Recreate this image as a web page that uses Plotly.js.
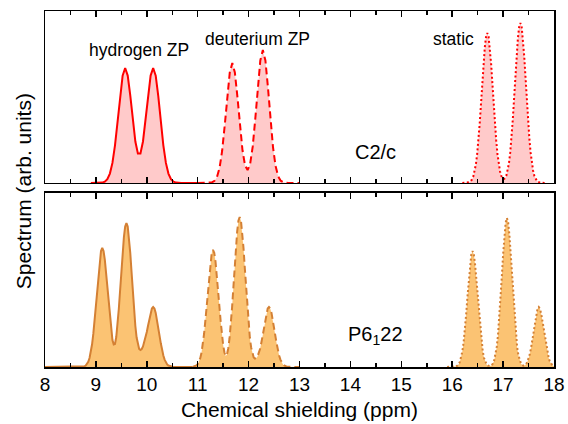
<!DOCTYPE html>
<html>
<head>
<meta charset="utf-8">
<script src="https://cdn.plot.ly/plotly-3.0.1.min.js"></script>
<style>html,body{margin:0;padding:0;background:#fff;}#plot{width:568px;height:424px;}</style>
</head>
<body>
<div id="plot"></div>
<script>
// ---- C2/c (top panel) ----
const c2cHydrogenX = [8.9, 9.025, 9.075, 9.125, 9.175, 9.225, 9.275, 9.325, 9.375, 9.425, 9.475, 9.525, 9.575, 9.625, 9.675, 9.725, 9.775, 9.825, 9.875, 9.925, 9.975, 10.025, 10.075, 10.125, 10.175, 10.225, 10.275, 10.325, 10.375, 10.425, 10.475, 10.525, 10.575, 10.625, 10.675, 11.0];
const c2cHydrogenY = [0, 0, 0.1, 0.4, 1.3, 3.8, 9.4, 20.1, 37.7, 61.4, 87.1, 107.3, 115, 107.4, 87.5, 62.7, 41.5, 29.5, 29.5, 41.5, 62.7, 87.5, 107.4, 115, 107.3, 87.1, 61.4, 37.7, 20.1, 9.4, 3.8, 1.3, 0.4, 0.1, 0, 0];

const c2cDeuteriumX = [11.0, 11.23, 11.28, 11.33, 11.38, 11.43, 11.48, 11.53, 11.58, 11.63, 11.68, 11.73, 11.78, 11.83, 11.88, 11.93, 11.98, 12.03, 12.08, 12.13, 12.18, 12.23, 12.28, 12.33, 12.38, 12.43, 12.48, 12.53, 12.58, 12.63, 12.68, 12.73, 12.78, 13.0];
const c2cDeuteriumY = [0, 0.2, 0.6, 2.1, 6.1, 15.2, 32.0, 57.1, 86.3, 110.5, 120, 110.5, 86.3, 57.3, 32.7, 17.5, 12.9, 19.0, 36.1, 63.5, 95.6, 122.5, 133, 122.5, 95.6, 63.3, 35.5, 16.9, 6.8, 2.3, 0.7, 0.2, 0, 0];

const c2cStaticX = [16.2, 16.29, 16.315, 16.34, 16.365, 16.39, 16.415, 16.44, 16.465, 16.49, 16.515, 16.54, 16.565, 16.59, 16.615, 16.64, 16.665, 16.69, 16.715, 16.74, 16.765, 16.79, 16.815, 16.84, 16.865, 16.89, 16.915, 16.94, 16.965, 16.99, 17.015, 17.04, 17.065, 17.09, 17.115, 17.14, 17.165, 17.19, 17.215, 17.24, 17.265, 17.29, 17.315, 17.34, 17.365, 17.39, 17.415, 17.44, 17.465, 17.49, 17.515, 17.54, 17.565, 17.59, 17.615, 17.64, 17.665, 17.69, 17.715, 17.74, 17.85];
const c2cStaticY = [0, 0.2, 0.45, 0.95, 1.9, 3.6, 6.6, 11.3, 18.5, 28.7, 42.3, 59.3, 78.6, 99.3, 119.0, 135.3, 146.3, 150, 146.3, 135.3, 119.0, 99.3, 78.6, 59.3, 42.3, 28.7, 18.6, 11.5, 7.1, 4.6, 3.9, 4.8, 7.5, 12.3, 19.7, 30.6, 45.1, 63.2, 83.8, 105.9, 126.9, 144.3, 156.0, 160, 156.0, 144.3, 126.9, 105.9, 83.8, 63.2, 45.1, 30.6, 19.7, 12.1, 7.0, 3.9, 2.0, 1.0, 0.5, 0.2, 0];

// ---- P6_122 (bottom panel) ----
const p6HydrogenX = [8.0, 8.75, 8.775, 8.8, 8.825, 8.85, 8.875, 8.9, 8.925, 8.95, 8.975, 9.0, 9.025, 9.05, 9.075, 9.1, 9.125, 9.15, 9.175, 9.2, 9.225, 9.25, 9.275, 9.3, 9.325, 9.35, 9.375, 9.4, 9.425, 9.45, 9.475, 9.5, 9.525, 9.55, 9.575, 9.6, 9.625, 9.65, 9.675, 9.7, 9.725, 9.75, 9.775, 9.8, 9.825, 9.85, 9.875, 9.9, 9.925, 9.95, 9.975, 10.0, 10.025, 10.05, 10.075, 10.1, 10.125, 10.15, 10.175, 10.2, 10.225, 10.25, 10.275, 10.3, 10.325, 10.35, 10.375, 10.4, 10.425, 10.45, 10.475, 10.5, 10.9];
const p6HydrogenY = [0, 0.4, 0.75, 1.5, 2.9, 5.2, 9.0, 14.6, 22.7, 33.6, 47.0, 62.4, 78.8, 94.4, 107.3, 116.0, 119, 116.0, 107.4, 94.6, 79.2, 63.3, 48.5, 36.0, 27.0, 22.5, 23.0, 30.0, 42.0, 58.0, 76.2, 95.7, 114.4, 129.9, 140.4, 144, 140.4, 129.9, 114.2, 95.3, 75.6, 57.1, 41.0, 29.5, 21.5, 18.0, 17.0, 18.0, 20.5, 24.5, 29.5, 35.0, 41.5, 48.5, 54.5, 58.5, 60, 58.5, 54.1, 47.6, 39.7, 31.4, 23.7, 16.9, 11.5, 7.4, 4.5, 2.6, 1.5, 0.8, 0.4, 0.2, 0];

const p6DeuteriumX = [10.9, 10.925, 10.95, 10.975, 11.0, 11.025, 11.05, 11.075, 11.1, 11.125, 11.15, 11.175, 11.2, 11.225, 11.25, 11.275, 11.3, 11.325, 11.35, 11.375, 11.4, 11.425, 11.45, 11.475, 11.5, 11.525, 11.55, 11.575, 11.6, 11.625, 11.65, 11.675, 11.7, 11.725, 11.75, 11.775, 11.8, 11.825, 11.85, 11.875, 11.9, 11.925, 11.95, 11.975, 12.0, 12.025, 12.05, 12.075, 12.1, 12.125, 12.15, 12.175, 12.2, 12.225, 12.25, 12.275, 12.3, 12.325, 12.35, 12.375, 12.4, 12.425, 12.45, 12.475, 12.5, 12.525, 12.55, 12.575, 12.6, 12.625, 12.65, 12.675, 12.7, 12.725, 12.75, 12.775, 12.8, 13.0];
const p6DeuteriumY = [0.15, 0.35, 0.74, 1.5, 2.8, 5.1, 8.8, 14.4, 22.3, 33.0, 46.2, 61.3, 77.5, 92.8, 105.5, 114.1, 117, 114.1, 105.5, 92.8, 77.6, 61.5, 46.5, 33.0, 22.0, 14.5, 11.0, 12.5, 18.5, 28.5, 42.0, 59.3, 78.7, 99.4, 119.0, 135.3, 146.3, 150, 146.3, 135.3, 119.0, 99.3, 78.6, 59.3, 42.4, 29.0, 19.5, 13.0, 9.5, 8.5, 9.0, 10.5, 13.5, 18.0, 24.3, 31.6, 39.7, 47.6, 54.1, 58.5, 60, 58.5, 54.1, 47.6, 39.7, 31.4, 23.7, 16.9, 11.5, 7.4, 4.5, 2.6, 1.5, 0.76, 0.38, 0.18, 0.08, 0];

const p6StaticX = [15.9, 16.0, 16.025, 16.05, 16.075, 16.1, 16.125, 16.15, 16.175, 16.2, 16.225, 16.25, 16.275, 16.3, 16.325, 16.35, 16.375, 16.4, 16.425, 16.45, 16.475, 16.5, 16.525, 16.55, 16.575, 16.6, 16.625, 16.65, 16.675, 16.7, 16.725, 16.75, 16.775, 16.8, 16.825, 16.85, 16.875, 16.9, 16.925, 16.95, 16.975, 17.0, 17.025, 17.05, 17.075, 17.1, 17.125, 17.15, 17.175, 17.2, 17.225, 17.25, 17.275, 17.3, 17.325, 17.35, 17.375, 17.4, 17.425, 17.45, 17.475, 17.5, 17.525, 17.55, 17.575, 17.6, 17.625, 17.65, 17.675, 17.7, 17.725, 17.75, 17.775, 17.8, 17.825, 17.85, 17.875, 17.9, 17.925, 17.95, 17.975, 18.0];
const p6StaticY = [0, 0.03, 0.1, 0.26, 0.6, 1.3, 2.6, 5.1, 9.2, 15.7, 25.1, 37.7, 53.1, 70.4, 87.6, 102.3, 112.4, 116, 112.4, 102.3, 87.6, 70.4, 53.1, 37.7, 25.1, 15.7, 9.2, 5.1, 2.6, 1.4, 0.9, 1.0, 1.8, 3.4, 6.6, 11.9, 20.1, 32.2, 48.4, 68.2, 90.4, 112.5, 131.4, 144.4, 149, 144.4, 131.4, 112.5, 90.4, 68.2, 48.4, 32.2, 20.1, 11.9, 6.7, 3.5, 2.0, 1.4, 1.7, 2.7, 4.8, 8.1, 13.0, 19.5, 27.5, 36.4, 45.3, 52.9, 58.1, 60, 58.1, 52.9, 45.3, 36.4, 27.5, 19.5, 13.0, 8.1, 4.8, 2.6, 1.4, 0.67];

const xTickVals = [8, 9, 10, 11, 12, 13, 14, 15, 16, 17, 18];
const xTickText = ['8', '9', '10', '11', '12', '13', '14', '15', '16', '17', '18'];

const FONT = 'Liberation Sans, Arial, Helvetica, sans-serif';
const RED = '#ff0000', PINK = 'rgba(255,150,150,0.5)';
const ORANGE_LINE = 'rgb(212,128,52)', ORANGE_FILL = 'rgba(250,180,80,0.8)';

function trace(x, y, xa, ya, color, fill, dash) {
  return {x: x, y: y, xaxis: xa, yaxis: ya, type: 'scatter', mode: 'lines',
    line: {color: color, width: 2, dash: dash}, fill: 'tozeroy', fillcolor: fill,
    hoverinfo: 'skip', showlegend: false};
}

const data = [
  trace(c2cHydrogenX, c2cHydrogenY, 'x2', 'y2', RED, PINK, 'solid'),
  trace(c2cDeuteriumX, c2cDeuteriumY, 'x2', 'y2', RED, PINK, '7px,4px'),
  trace(c2cStaticX, c2cStaticY, 'x2', 'y2', RED, PINK, '2px,2.5px'),
  trace(p6HydrogenX, p6HydrogenY, 'x', 'y', ORANGE_LINE, ORANGE_FILL, 'solid'),
  trace(p6DeuteriumX, p6DeuteriumY, 'x', 'y', ORANGE_LINE, ORANGE_FILL, '7px,4px'),
  trace(p6StaticX, p6StaticY, 'x', 'y', ORANGE_LINE, ORANGE_FILL, '2px,2.5px')
];

const xCommon = {
  range: [8, 18], tickmode: 'array', tickvals: xTickVals, ticktext: xTickText,
  ticks: 'inside', ticklen: 6, tickwidth: 1.5, tickcolor: '#000',
  minor: {tickmode: 'linear', tick0: 8, dtick: 0.5, ticks: 'inside', ticklen: 4, tickwidth: 1.5, tickcolor: '#000', showgrid: false},
  showline: true, linewidth: 1.5, linecolor: '#000', mirror: 'ticks',
  showgrid: false, zeroline: false, layer: 'above traces'
};
const yCommon = {
  showticklabels: false, ticks: '', showline: true, linewidth: 1.5, linecolor: '#000',
  mirror: true, showgrid: false, zeroline: false, fixedrange: true
};

const annFont = {family: FONT, size: 17.5, color: '#000'};
const layout = {
  width: 568, height: 424,
  margin: {l: 45, r: 14, t: 11, b: 57},
  paper_bgcolor: '#fff', plot_bgcolor: 'rgba(0,0,0,0)',
  font: {family: FONT, color: '#000'},
  xaxis: Object.assign({}, xCommon, {anchor: 'y', domain: [0, 1],
    tickfont: {family: FONT, size: 19, color: '#000'},
    title: {text: 'Chemical shielding (ppm)', font: {family: FONT, size: 21, color: '#000'}, standoff: 8}}),
  xaxis2: Object.assign({}, xCommon, {anchor: 'y2', domain: [0, 1], matches: 'x', showticklabels: false}),
  yaxis: Object.assign({}, yCommon, {anchor: 'x', domain: [0, 0.4888], range: [0, 174]}),
  yaxis2: Object.assign({}, yCommon, {anchor: 'x2', domain: [0.5169, 1], range: [0, 172]}),
  annotations: [
    {text: 'hydrogen ZP', x: 9.84, y: 133.5, xref: 'x2', yref: 'y2', showarrow: false, font: annFont},
    {text: 'deuterium ZP', x: 12.165, y: 144.5, xref: 'x2', yref: 'y2', showarrow: false, font: annFont},
    {text: 'static', x: 16.035, y: 144.5, xref: 'x2', yref: 'y2', showarrow: false, font: annFont},
    {text: 'C2/c', x: 14.5, y: 31, xref: 'x2', yref: 'y2', showarrow: false, font: {family: FONT, size: 20, color: '#000'}},
    {text: 'P6<sub>1</sub>22', x: 14.49, y: 31.5, xref: 'x', yref: 'y', showarrow: false, yanchor: 'middle', font: {family: FONT, size: 20, color: '#000'}},
    {text: 'Spectrum (arb. units)', textangle: -90, x: -0.0432, y: 0.494, xref: 'paper', yref: 'paper',
     showarrow: false, xanchor: 'center', yanchor: 'middle', font: {family: FONT, size: 21, color: '#000'}}
  ]
};

Plotly.newPlot('plot', data, layout, {staticPlot: true, displayModeBar: false});
</script>
</body>
</html>
